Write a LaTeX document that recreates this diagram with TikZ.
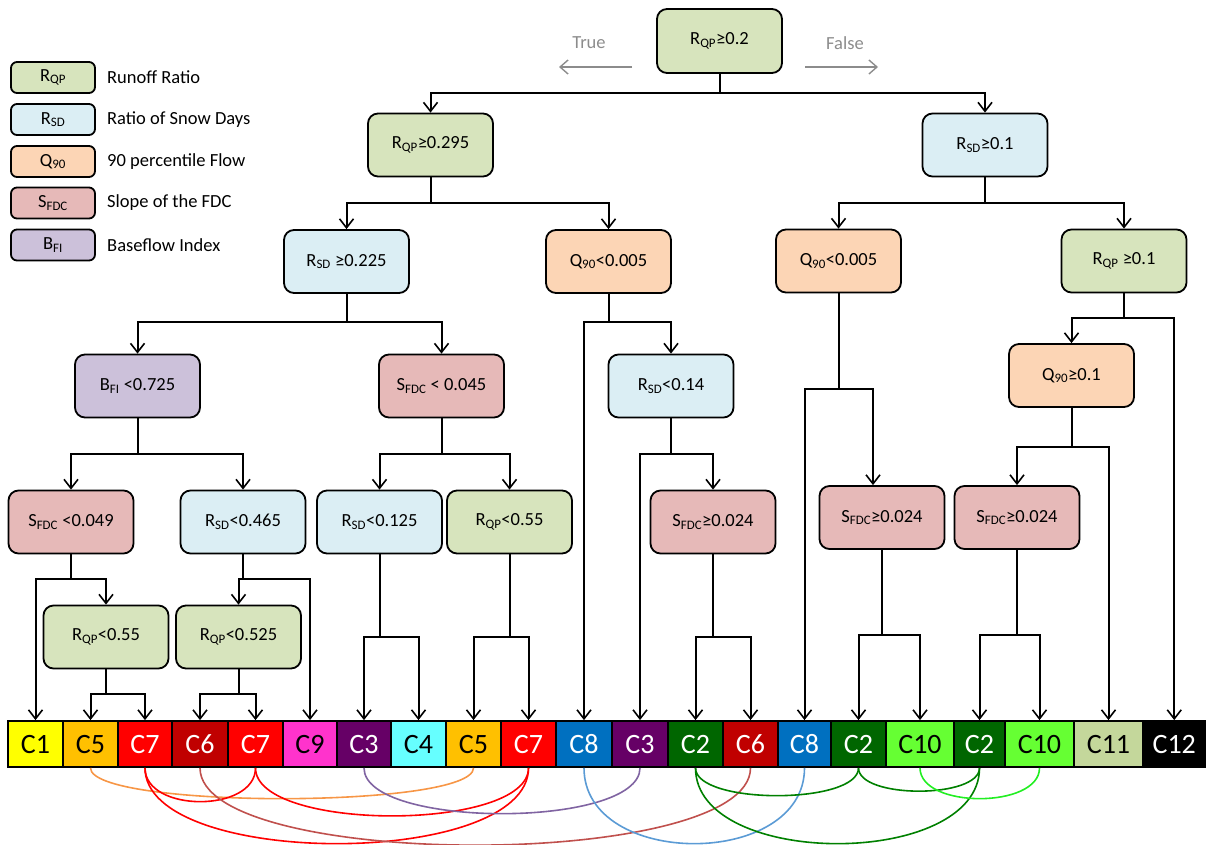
\documentclass[tikz,border=0pt]{standalone}
\usepackage{fontspec}
\setmainfont{Carlito}
\usetikzlibrary{arrows.meta}
\definecolor{cqp}{HTML}{D7E4BD}
\definecolor{csd}{HTML}{DBEEF4}
\definecolor{cq}{HTML}{FCD5B5}
\definecolor{cs}{HTML}{E6B9B8}
\definecolor{cb}{HTML}{CCC1DA}
\definecolor{kC1}{HTML}{FFFF00}
\definecolor{kC5}{HTML}{FFC000}
\definecolor{kC7}{HTML}{FF0000}
\definecolor{kC6}{HTML}{C00000}
\definecolor{kC9}{HTML}{FF33CC}
\definecolor{kC3}{HTML}{660066}
\definecolor{kC4}{HTML}{66FFFF}
\definecolor{kC8}{HTML}{0070C0}
\definecolor{kC2}{HTML}{006600}
\definecolor{kC10}{HTML}{66FF33}
\definecolor{kC11}{HTML}{C4D79B}
\definecolor{kC12}{HTML}{000000}
\definecolor{aor}{HTML}{F79646}
\definecolor{ared}{HTML}{FF0000}
\definecolor{abr}{HTML}{C0504D}
\definecolor{apu}{HTML}{8064A2}
\definecolor{abl}{HTML}{5B9BD5}
\definecolor{agr}{HTML}{008000}
\definecolor{alg}{HTML}{22EE22}
\definecolor{tfgray}{HTML}{8C8C8C}
\newcommand\sub[1]{\textsubscript{#1}}
\newcommand\mkcell[6]{\node[cell, fill=#4, text=#5, minimum width={#3-#2}] (#1) at ({(#2+#3)/2},744) {#6};}
\begin{document}
\begin{tikzpicture}[x=1pt,y=-1pt,
  tnode/.style={draw, line width=1.8pt, rounded corners=10pt, minimum width=125pt, minimum height=63pt, inner sep=0pt, font=\fontsize{18.5}{22}\selectfont},
  lgbox/.style={draw, line width=1.8pt, rounded corners=6pt, minimum width=84pt, minimum height=31pt, inner sep=0pt, font=\fontsize{18.5}{22}\selectfont},
  lgtext/.style={anchor=west, inner sep=0pt, font=\fontsize{18.5}{22}\selectfont},
  cell/.style={draw, line width=1.8pt, minimum height=46pt, inner sep=0pt, font=\fontsize{28}{30}\selectfont},
  arr/.style={line width=2pt, -{Straight Barb[length=9pt,width=14pt,line width=1.6pt]}},
  garr/.style={line width=1.6pt, draw=tfgray, -{Straight Barb[length=8pt,width=14pt,line width=1.4pt]}},
  arcl/.style={line width=1.6pt}]
\useasboundingbox (0,0) rectangle (1206,844);

% legend
\node[lgbox, fill=cqp] (l1) at (53,77.5) {R\sub{QP}};
\node[lgbox, fill=csd] (l2) at (53,119.5) {R\sub{SD}};
\node[lgbox, fill=cq] (l3) at (53,161.5) {Q\sub{90}};
\node[lgbox, fill=cs] (l4) at (53,203) {S\sub{FDC}};
\node[lgbox, fill=cb] (l5) at (53,245) {B\sub{FI}};
\node[lgtext] (t1) at (107,77.5) {Runoff Ratio};
\node[lgtext] (t2) at (107,119.5) {Ratio of Snow Days};
\node[lgtext] (t3) at (107,161.5) {90 percentile Flow};
\node[lgtext] (t4) at (107,203) {Slope of the FDC};
\node[lgtext] (t5) at (107,245) {Baseflow Index};

% true / false
\node[font=\fontsize{18.5}{22}\selectfont, text=tfgray] (tt) at (589,43) {True};
\node[font=\fontsize{18.5}{22}\selectfont, text=tfgray] (ff) at (845,43) {False};
\coordinate (ta) at (632,67); \coordinate (tb) at (559,67);
\coordinate (fa) at (805,67); \coordinate (fb) at (878,67);
\draw[garr] (ta) -- (tb);
\draw[garr] (fa) -- (fb);

% tree nodes
\node[tnode, fill=cqp, minimum height=64pt] (top) at (719.5,41) {R\sub{QP}≥0.2};
\node[tnode, fill=cqp] (n1L) at (430.5,145) {R\sub{QP}≥0.295};
\node[tnode, fill=csd] (n1R) at (985,145) {R\sub{SD}≥0.1};
\node[tnode, fill=csd] (n2a) at (346.5,261.5) {R\sub{SD} ≥0.225};
\node[tnode, fill=cq] (n2b) at (608.5,261.5) {Q\sub{90}<0.005};
\node[tnode, fill=cq] (n2c) at (838.5,261) {Q\sub{90}<0.005};
\node[tnode, fill=cqp] (n2d) at (1124,261) {R\sub{QP} ≥0.1};
\node[tnode, fill=cb] (n3a) at (137.5,386) {B\sub{FI} <0.725};
\node[tnode, fill=cs] (n3b) at (441.5,386) {S\sub{FDC} < 0.045};
\node[tnode, fill=csd] (n3c) at (671,386) {R\sub{SD}<0.14};
\node[tnode, fill=cq] (n3d) at (1071.5,375.5) {Q\sub{90}≥0.1};
\node[tnode, fill=cs] (n4a) at (71,522) {S\sub{FDC} <0.049};
\node[tnode, fill=csd] (n4b) at (243,522) {R\sub{SD}<0.465};
\node[tnode, fill=csd] (n4c) at (379.5,522) {R\sub{SD}<0.125};
\node[tnode, fill=cqp] (n4d) at (509.5,522) {R\sub{QP}<0.55};
\node[tnode, fill=cs] (n4e) at (713,522) {S\sub{FDC}≥0.024};
\node[tnode, fill=cs] (n4f) at (882,517.5) {S\sub{FDC}≥0.024};
\node[tnode, fill=cs] (n4g) at (1017,517.5) {S\sub{FDC}≥0.024};
\node[tnode, fill=cqp] (n5a) at (106,637) {R\sub{QP}<0.55};
\node[tnode, fill=cqp] (n5b) at (238.5,637) {R\sub{QP}<0.525};

% cells
\mkcell{k1}{8}{63}{kC1}{black}{C1}
\mkcell{k2}{63}{118}{kC5}{black}{C5}
\mkcell{k3}{118}{172}{kC7}{white}{C7}
\mkcell{k4}{172}{228}{kC6}{white}{C6}
\mkcell{k5}{228}{283}{kC7}{white}{C7}
\mkcell{k6}{283}{337}{kC9}{black}{C9}
\mkcell{k7}{337}{391}{kC3}{white}{C3}
\mkcell{k8}{391}{446}{kC4}{black}{C4}
\mkcell{k9}{446}{501}{kC5}{black}{C5}
\mkcell{k10}{501}{556}{kC7}{white}{C7}
\mkcell{k11}{556}{612}{kC8}{white}{C8}
\mkcell{k12}{612}{668}{kC3}{white}{C3}
\mkcell{k13}{668}{723}{kC2}{white}{C2}
\mkcell{k14}{723}{778}{kC6}{white}{C6}
\mkcell{k15}{778}{831}{kC8}{white}{C8}
\mkcell{k16}{831}{886}{kC2}{white}{C2}
\mkcell{k17}{886}{954}{kC10}{black}{C10}
\mkcell{k18}{954}{1005}{kC2}{white}{C2}
\mkcell{k19}{1005}{1074}{kC10}{black}{C10}
\mkcell{k20}{1074}{1143}{kC11}{black}{C11}
\mkcell{k21}{1143}{1205.5}{kC12}{white}{C12}

% tree connectors
\draw[arr] (top.south) -- (top.south |- 0,93) -| (n1L.north);
\draw[arr] (top.south) -- (top.south |- 0,93) -| (n1R.north);
\draw[arr] (n1L.south) -- (n1L.south |- 0,203) -| (n2a.north);
\draw[arr] (n1L.south) -- (n1L.south |- 0,203) -| (n2b.north);
\draw[arr] (n1R.south) -- (n1R.south |- 0,203) -| (n2c.north);
\draw[arr] (n1R.south) -- (n1R.south |- 0,203) -| (n2d.north);
\draw[arr] (n2a.south) -- (n2a.south |- 0,322) -| (n3a.north);
\draw[arr] (n2a.south) -- (n2a.south |- 0,322) -| (n3b.north);
\draw[arr] (n2b.south) -- (n2b.south |- 0,322) -| (k11.north);
\draw[arr] (n2b.south) -- (n2b.south |- 0,322) -| (n3c.north);
\draw[arr] (n2c.south) -- (n2c.south |- 0,389) -| (k15.north);
\draw[arr] (n2c.south) -- (n2c.south |- 0,389) -| ([xshift=-9pt]n4f.north);
\draw[arr] (n2d.south) -- (n2d.south |- 0,318) -| (n3d.north);
\draw[arr] (n2d.south) -- (n2d.south |- 0,318) -| (k21.north);
\draw[arr] (n3a.south) -- (n3a.south |- 0,454) -| (n4a.north);
\draw[arr] (n3a.south) -- (n3a.south |- 0,454) -| (n4b.north);
\draw[arr] (n3b.south) -- (n3b.south |- 0,454) -| (n4c.north);
\draw[arr] (n3b.south) -- (n3b.south |- 0,454) -| (n4d.north);
\draw[arr] (n3c.south) -- (n3c.south |- 0,454) -| (k12.north);
\draw[arr] (n3c.south) -- (n3c.south |- 0,454) -| (n4e.north);
\draw[arr] (n3d.south) -- (n3d.south |- 0,447) -| (n4g.north);
\draw[arr] (n3d.south) -- (n3d.south |- 0,447) -| (k20.north);
\draw[arr] (n4a.south) -- (n4a.south |- 0,579) -| (k1.north);
\draw[arr] (n4a.south) -- (n4a.south |- 0,579) -| (n5a.north);
\draw[arr] (n4b.south) -- (n4b.south |- 0,579) -| (n5b.north);
\draw[arr] (n4b.south) -- (n4b.south |- 0,579) -| (k6.north);
\draw[arr] (n4c.south) -- (n4c.south |- 0,637) -| (k7.north);
\draw[arr] (n4c.south) -- (n4c.south |- 0,637) -| (k8.north);
\draw[arr] (n4d.south) -- (n4d.south |- 0,637) -| (k9.north);
\draw[arr] (n4d.south) -- (n4d.south |- 0,637) -| (k10.north);
\draw[arr] (n4e.south) -- (n4e.south |- 0,637) -| (k13.north);
\draw[arr] (n4e.south) -- (n4e.south |- 0,637) -| (k14.north);
\draw[arr] (n4f.south) -- (n4f.south |- 0,635) -| (k16.north);
\draw[arr] (n4f.south) -- (n4f.south |- 0,635) -| (k17.north);
\draw[arr] (n4g.south) -- (n4g.south |- 0,635) -| (k18.north);
\draw[arr] (n4g.south) -- (n4g.south |- 0,635) -| (k19.north);
\draw[arr] (n5a.south) -- (n5a.south |- 0,694) -| (k2.north);
\draw[arr] (n5a.south) -- (n5a.south |- 0,694) -| (k3.north);
\draw[arr] (n5b.south) -- (n5b.south |- 0,694) -| (k4.north);
\draw[arr] (n5b.south) -- (n5b.south |- 0,694) -| (k5.north);

% arcs between same classes
\draw[arcl, aor] (k2.south) .. controls +(0,41) and +(0,41) .. (k9.south);
\draw[arcl, ared] (k3.south) .. controls +(0,45) and +(0,45) .. (k5.south);
\draw[arcl, ared] (k5.south) .. controls +(0,64) and +(0,64) .. (k10.south);
\draw[arcl, ared] (k3.south) .. controls +(0,101) and +(0,101) .. (k10.south);
\draw[arcl, abr] (k4.south) .. controls +(0,103) and +(0,103) .. (k14.south);
\draw[arcl, apu] (k7.south) .. controls +(0,61) and +(0,61) .. (k12.south);
\draw[arcl, abl] (k11.south) .. controls +(0,101) and +(0,101) .. (k15.south);
\draw[arcl, agr] (k13.south) .. controls +(0,37) and +(0,37) .. (k16.south);
\draw[arcl, agr] (k13.south) .. controls +(0,101) and +(0,101) .. (k18.south);
\draw[arcl, agr] (k16.south) .. controls +(0,31) and +(0,31) .. (k18.south);
\draw[arcl, alg] (k17.south) .. controls +(0,41) and +(0,41) .. (k19.south);
\end{tikzpicture}
\end{document}
